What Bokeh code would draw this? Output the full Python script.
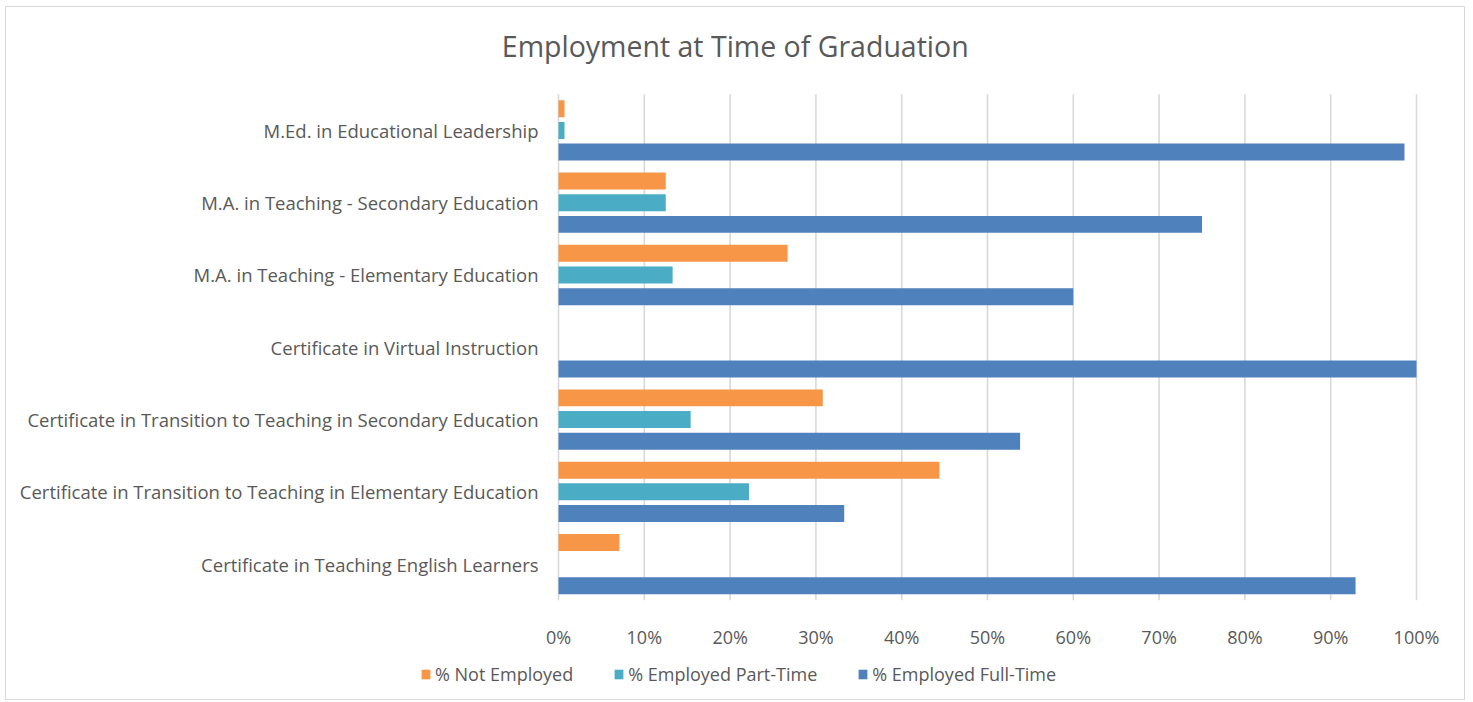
import numpy as np
from bokeh.plotting import figure
from bokeh.models import (Range1d, FixedTicker, NumeralTickFormatter, Legend, LegendItem,
                          ColumnDataSource, Label)
from bokeh.embed import file_html
from bokeh.resources import INLINE

# Data (top-to-bottom order as shown)
programs = [
    "M.Ed. in Educational Leadership",
    "M.A. in Teaching - Secondary Education",
    "M.A. in Teaching - Elementary Education",
    "Certificate in Virtual Instruction",
    "Certificate in Transition to Teaching in Secondary Education",
    "Certificate in Transition to Teaching in Elementary Education",
    "Certificate in Teaching English Learners",
]
not_employed = [0.007, 0.125, 0.267, 0.0, 0.308, 0.444, 0.071]
part_time = [0.007, 0.125, 0.133, 0.0, 0.154, 0.222, 0.0]
full_time = [0.986, 0.75, 0.60, 1.0, 0.538, 0.333, 0.929]
tick_values = [0, 0.1, 0.2, 0.3, 0.4, 0.5, 0.6, 0.7, 0.8, 0.9, 1.0]
series_names = ["% Not Employed", "% Employed Part-Time", "% Employed Full-Time"]
title_text = "Employment at Time of Graduation"

colors = ["#F79646", "#4BACC6", "#4F81BD"]
FONT = "Open Sans"
TXT = "#595959"
GRID = "#d9d9d9"

n = len(programs)
centers = (n - 1 - np.arange(n) + 0.5).astype(float)   # category centre positions
off = 0.3
bh = 0.235

src = ColumnDataSource(dict(cat=programs, yc=centers, yo=centers + off, yb=centers - off,
                            ne=not_employed, pt=part_time, ft=full_time))

# Canvas-wide frame; ranges chosen so the bar area sits where the reference draws it
p = figure(
    width=1460, height=694,
    x_range=Range1d(-0.6434, 1.0583), y_range=Range1d(-1.40, 8.20),
    output_backend="svg", toolbar_location=None, min_border=0,
)
p.styles = {"border": "1px solid #d9d9d9", "margin-left": "5px", "margin-top": "6px"}
p.outline_line_color = None
p.grid.grid_line_color = None

# vertical gridlines spanning only the category area
p.segment(x0=tick_values, x1=tick_values, y0=0, y1=n, line_color=GRID, line_width=1.6)

r1 = p.hbar(y="yo", right="ne", left=0, height=bh, source=src, fill_color=colors[0], line_color=None)
r2 = p.hbar(y="yc", right="pt", left=0, height=bh, source=src, fill_color=colors[1], line_color=None)
r3 = p.hbar(y="yb", right="ft", left=0, height=bh, source=src, fill_color=colors[2], line_color=None)

# x axis fixed at the bottom of the category area
xa = p.xaxis[0]
xa.fixed_location = 0
xa.ticker = FixedTicker(ticks=tick_values)
xa.formatter = NumeralTickFormatter(format="0%")
xa.axis_line_color = None
xa.major_tick_line_color = None
xa.minor_tick_line_color = None
xa.major_label_text_font = FONT
xa.major_label_text_font_size = "18px"
xa.major_label_text_color = TXT
xa.major_label_standoff = 19

# category axis fixed at x = 0
ya = p.yaxis[0]
ya.fixed_location = 0
ya.ticker = FixedTicker(ticks=list(centers))
ya.major_label_overrides = {float(c): name for c, name in zip(centers, programs)}
ya.axis_line_color = None
ya.major_tick_line_color = None
ya.minor_tick_line_color = None
ya.major_label_text_font = FONT
ya.major_label_text_font_size = "18.5px"
ya.major_label_text_color = TXT
ya.major_label_standoff = 14

# title
p.add_layout(Label(x=0.206, y=7.67, text=title_text, text_align="center", text_baseline="middle",
                   text_font=FONT, text_font_size="28.5px", text_color=TXT))

legend = Legend(
    items=[LegendItem(label=nm, renderers=[r]) for nm, r in zip(series_names, [r1, r2, r3])],
    orientation="horizontal",
    location=(414, 15),
    border_line_color=None, background_fill_alpha=0,
    label_text_font=FONT, label_text_font_size="18px", label_text_color=TXT,
    glyph_width=11, glyph_height=12, label_standoff=4, spacing=40,
    padding=0, margin=0,
)
p.add_layout(legend, "center")

open("out.html", "w").write(file_html(p, INLINE))
